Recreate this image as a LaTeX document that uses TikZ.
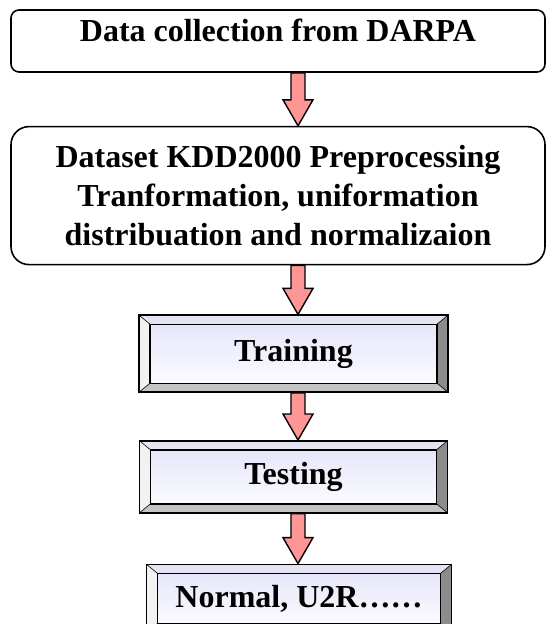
\documentclass[tikz,border=0pt]{standalone}
\usepackage{fontspec}
\setmainfont{Liberation Serif}
\usetikzlibrary{positioning}
\usetikzlibrary{calc}
\definecolor{arrowpink}{HTML}{FF9696}
\definecolor{beveltop}{HTML}{E4E4F2}
\definecolor{bevelleft}{HTML}{F2F2F2}
\definecolor{bevelright}{HTML}{8C8C8C}
\definecolor{bevelbottom}{HTML}{C4C4C4}
\definecolor{innertop}{HTML}{E6E6FA}
\definecolor{innerbottom}{HTML}{FBFBFF}
\tikzset{
  box/.style            = { rectangle, inner sep=0pt, align=center,
                            font=\fontsize{32}{39}\selectfont\bfseries },
  border/.style         = { line width=1.6pt, draw=black },
  round/.style          = { rounded corners=8pt },
}
\tikzset{
  stage/.style          = { box, border, round, fill=white, minimum width=534pt },
  bevel/.style          = { box, border, path picture={
      \path (path picture bounding box.north west) coordinate (onw)
            (path picture bounding box.south east) coordinate (ose);
      \path ([shift={(11pt,-9pt)}]onw) coordinate (inw)
            ([shift={(-11pt,9pt)}]ose) coordinate (ise);
      \fill[bevelbottom] (onw) rectangle (ose);
      \fill[beveltop]   (onw) -- (onw -| ose) -- (inw -| ise) -- (inw) -- cycle;
      \fill[bevelleft]  (onw) -- (inw) -- (inw |- ise) -- (onw |- ose) -- cycle;
      \fill[bevelright] (onw -| ose) -- (ose) -- (ise) -- (inw -| ise) -- cycle;
      \shade[top color=innertop, bottom color=innerbottom] (inw) rectangle (ise);
      \draw[line width=1.4pt] (inw) rectangle (ise);
      \draw[line width=0.6pt] (onw) -- (inw) (onw -| ose) -- (inw -| ise)
                              (ose) -- (ise) (onw |- ose) -- (inw |- ise);
    } },
  flow/.style           = { line width=1.4pt, draw=black, fill=arrowpink, line join=miter },
}
% block arrow from the bottom of #1 to the top of #2
\newcommand{\flowarrow}[2]{%
  \filldraw[flow] let \p0=(spine), \p1=(#1.south), \p2=(#2.north) in
    (\x0-7pt,\y1) -- (\x0-7pt,\y2+26pt) -- (\x0-15pt,\y2+26pt) -- (\x0,\y2)
    -- (\x0+15pt,\y2+26pt) -- (\x0+7pt,\y2+26pt) -- (\x0+7pt,\y1) -- cycle;}

\begin{document}
\begin{tikzpicture}[x=1pt,y=-1pt]
  \useasboundingbox (0,0) rectangle (546,624);
  \coordinate (spine) at (298,0);

  \node (collect) [stage,minimum height=62pt,text height=19pt,text depth=19pt]
        at (278,41)                                               {Data collection from DARPA};
  \node (prep)    [stage,rounded corners=18pt,minimum height=138pt,below=53pt of collect]
        {Dataset KDD2000 Preprocessing\\Tranformation, uniformation\\distribuation and normalizaion};
  \node (train)   [bevel,minimum width=309pt,minimum height=77pt,below=49pt of prep,xshift=15.5pt]
        {Training};
  \node (test)    [bevel,minimum width=308pt,minimum height=72pt,below=47pt of train]
        {Testing};
  \node (result)  [bevel,minimum width=305pt,minimum height=68pt,below=50pt of test,xshift=5.5pt]
        {Normal, U2R……};

  \flowarrow{collect}{prep}
  \flowarrow{prep}{train}
  \flowarrow{train}{test}
  \flowarrow{test}{result}
\end{tikzpicture}
\end{document}
